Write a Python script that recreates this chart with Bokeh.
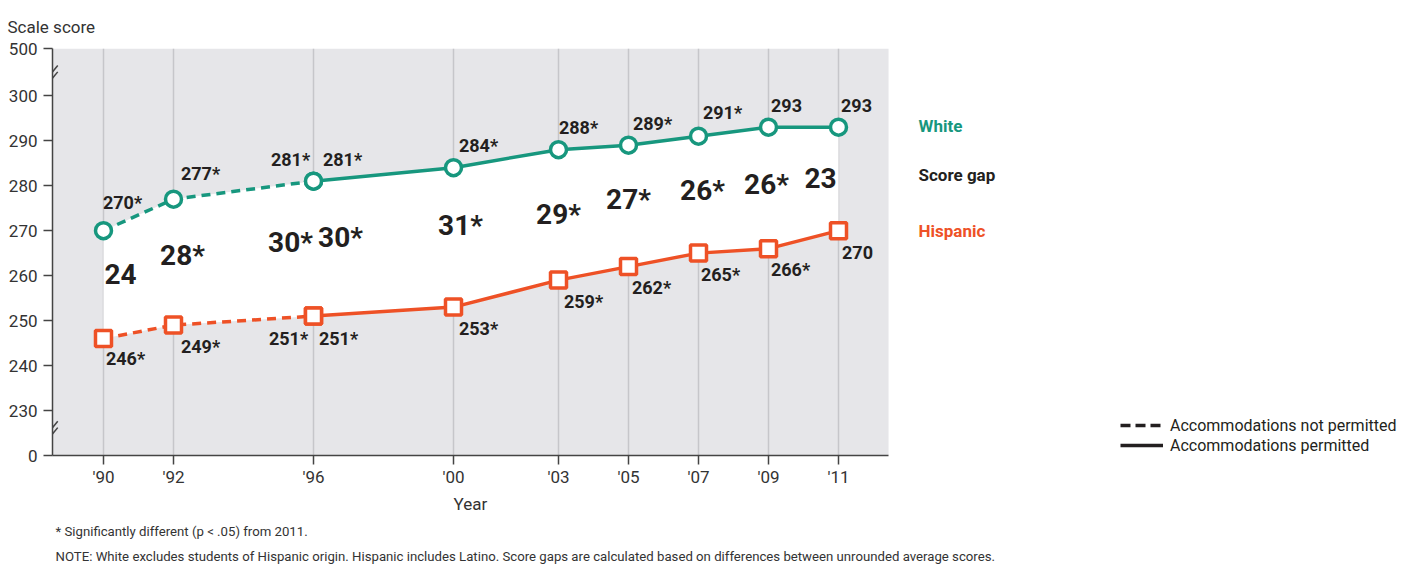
from bokeh.plotting import figure
from bokeh.models import (ColumnDataSource, Range1d, FixedTicker, Legend, LegendItem, Title)
from bokeh.core.properties import value
from bokeh.embed import file_html
from bokeh.resources import INLINE

# ---------------- data ----------------
years = [1990, 1992, 1996, 1996, 2000, 2003, 2005, 2007, 2009, 2011]
permitted = [False, False, False, True, True, True, True, True, True, True]
white = [270, 277, 281, 281, 284, 288, 289, 291, 293, 293]
hispanic = [246, 249, 251, 251, 253, 259, 262, 265, 266, 270]
gap = [24, 28, 30, 30, 31, 29, 27, 26, 26, 23]
white_sig = [1, 1, 1, 1, 1, 1, 1, 1, 0, 0]
hisp_sig = [1, 1, 1, 1, 1, 1, 1, 1, 1, 0]
gap_sig = [0, 1, 1, 1, 1, 1, 1, 1, 1, 0]

tick_years = [1990, 1992, 1996, 2000, 2003, 2005, 2007, 2009, 2011]
tick_labels = ["'90", "'92", "'96", "'00", "'03", "'05", "'07", "'09", "'11"]
y_ticks = [230, 240, 250, 260, 270, 280, 290, 300]
series_names = ["White", "Score gap", "Hispanic"]
legend_labels = ["Accommodations not permitted", "Accommodations permitted"]
# broken axis: display positions standing for 0 and 500
Y_ZERO_POS = 220
Y_TOP_POS = 310.5
X_LEFT = 1988.543
X_PLOT_RIGHT = 2012.43
X_CANVAS_RIGHT = 2027.514

# ---------------- label offsets (screen px) ----------------
white_dx = [19, 27, -23, 29, 25, 20, 24, 24, 18, 18]
white_dy = [-28, -26, -22, -22, -22, -22, -22, -24, -22, -22]
hisp_dx = [22, 27, -25, 25, 25, 25, 23, 22, 22, 19]
hisp_dy = [20, 21, 22, 22, 21, 21, 21, 21, 21, 22]
gap_dx = [17, 9, -23, 27, 7, 0, 0, 4, -2, -18]
gap_dy = [-11, -7, -6, -11, -12, 0, -6, -4, -3, -1]

TEAL = "#17977e"
ORANGE = "#ee5126"
TXT = "#231f20"
GREY_TXT = "#333333"
BG = "#e6e6e9"
GRID = "#c6c6ca"
FONT = "Roboto"


def star(v, s):
    return f"{v}*" if s else f"{v}"


p = figure(width=1416, height=567, output_backend="svg", toolbar_location=None,
           x_range=Range1d(X_LEFT, X_CANVAS_RIGHT), y_range=Range1d(Y_ZERO_POS, Y_TOP_POS),
           min_border_left=52, min_border_right=0, min_border_top=48, min_border_bottom=112)
p.background_fill_color = "white"
p.border_fill_color = "white"
p.outline_line_color = None
p.ygrid.grid_line_color = None
p.xgrid.grid_line_color = GRID
p.xgrid.grid_line_width = 1.5
p.xgrid.ticker = FixedTicker(ticks=tick_years)

# grey plotting area (drawn beneath the grid)
p.quad(left=[X_LEFT], right=[X_PLOT_RIGHT], bottom=[Y_ZERO_POS], top=[Y_TOP_POS],
       fill_color=BG, line_color=None, level="image")

p.xaxis.ticker = FixedTicker(ticks=tick_years)
p.xaxis.major_label_overrides = {y: l for y, l in zip(tick_years, tick_labels)}
p.xaxis.bounds = (X_LEFT, X_PLOT_RIGHT)
p.yaxis.ticker = FixedTicker(ticks=[Y_ZERO_POS] + y_ticks + [Y_TOP_POS])
overrides = {t: str(t) for t in y_ticks}
overrides[Y_ZERO_POS] = "0"
overrides[Y_TOP_POS] = "500"
p.yaxis.major_label_overrides = overrides
for ax in (p.xaxis[0], p.yaxis[0]):
    ax.axis_line_color = "#444444"
    ax.axis_line_width = 1.5
    ax.major_tick_line_color = "#444444"
    ax.major_tick_line_width = 1.5
    ax.major_tick_out = 9
    ax.major_tick_in = 0
    ax.minor_tick_line_color = None
    ax.major_label_text_font = FONT
    ax.major_label_text_font_size = "17px"
    ax.major_label_text_color = GREY_TXT
p.yaxis.major_label_standoff = 6
p.xaxis.major_label_standoff = 2

mid = [(w + h) / 2 for w, h in zip(white, hispanic)]
src = ColumnDataSource(dict(
    year=years, white=white, hisp=hispanic, mid=mid,
    wlab=[star(v, s) for v, s in zip(white, white_sig)],
    hlab=[star(v, s) for v, s in zip(hispanic, hisp_sig)],
    glab=[star(v, s) for v, s in zip(gap, gap_sig)],
    wdx=white_dx, wdy=white_dy, hdx=hisp_dx, hdy=hisp_dy, gdx=gap_dx, gdy=gap_dy,
))

# white band between the two series
p.varea(x="year", y1="hisp", y2="white", source=src, fill_color="white")

# split the lines into not permitted (dashed) and permitted (solid)
n_last = max(i for i, f in enumerate(permitted) if not f)
dash_x = years[:n_last + 1]
solid_x = years[n_last + 1:]
for series, col in ((white, TEAL), (hispanic, ORANGE)):
    p.line(dash_x, series[:n_last + 1], line_color=col, line_width=3.5, line_dash="9 6")
    p.line(solid_x, series[n_last + 1:], line_color=col, line_width=3.5)

p.scatter("year", "white", source=src, marker="circle", size=16, fill_color="white",
          line_color=TEAL, line_width=3.5)
p.scatter("year", "hisp", source=src, marker="square", size=16, fill_color="white",
          line_color=ORANGE, line_width=3.5)

common = dict(text_font=value(FONT), text_font_style="bold", text_color=TXT,
              text_align="center", text_baseline="middle")
p.text("year", "white", text="wlab", x_offset="wdx", y_offset="wdy", source=src,
       text_font_size="18px", **common)
p.text("year", "hisp", text="hlab", x_offset="hdx", y_offset="hdy", source=src,
       text_font_size="18px", **common)
p.text("year", "mid", text="glab", x_offset="gdx", y_offset="gdy", source=src,
       text_font_size="28px", **common)

# series names to the right of the last year
last = len(years) - 1
names_src = ColumnDataSource(dict(
    x=[years[last]] * 3,
    y=[white[last], mid[last], hispanic[last]],
    text=series_names,
    color=[TEAL, TXT, ORANGE],
    dy=[-1, -4, 0],
))
p.text("x", "y", text="text", source=names_src, text_color="color", x_offset=80,
       y_offset="dy", text_font=value(FONT), text_font_style="bold",
       text_font_size="17px", text_align="left", text_baseline="middle")

# axis break marks on the y axis
brk_x = X_LEFT
brk_dx = 0.15
brk_dy = 1.4
for yc in (305.3, 303.9, 226.2, 224.8):
    p.segment(x0=[brk_x - brk_dx], y0=[yc - brk_dy], x1=[brk_x + brk_dx], y1=[yc + brk_dy],
              line_color="#444444", line_width=1.5)

# line-style legend (sample renderers sit outside the visible range)
off_x = [X_LEFT - 20, X_LEFT - 19]
off_y = [Y_ZERO_POS, Y_ZERO_POS]
r_dash = p.line(off_x, off_y, line_color=TXT, line_width=3.5, line_dash="10 5")
r_solid = p.line(off_x, off_y, line_color=TXT, line_width=3.5)
leg = Legend(items=[LegendItem(label=legend_labels[0], renderers=[r_dash]),
                    LegendItem(label=legend_labels[1], renderers=[r_solid])],
             location=(1068, 0), padding=0, margin=0, spacing=0,
             glyph_width=43, glyph_height=20, label_height=20, label_standoff=7,
             label_text_font=FONT, label_text_font_size="16px", label_text_color=TXT,
             background_fill_alpha=0, border_line_color=None)
p.add_layout(leg)

# title-like texts
p.add_layout(Title(text="Scale score", align="left", offset=-45, standoff=23,
                   text_font=FONT, text_font_size="17px", text_font_style="normal",
                   text_color=GREY_TXT), "above")
p.add_layout(Title(text="Year", align="left", offset=401, standoff=4,
                   text_font=FONT, text_font_size="17px", text_font_style="normal",
                   text_color=GREY_TXT), "below")
p.add_layout(Title(text="* Significantly different (p < .05) from 2011.", align="left",
                   offset=3, standoff=13, text_font=FONT, text_font_size="13.2px",
                   text_font_style="normal", text_color=GREY_TXT), "below")
p.add_layout(Title(text="NOTE: White excludes students of Hispanic origin. Hispanic includes Latino. "
                        "Score gaps are calculated based on differences between unrounded average scores.",
                   align="left", offset=3, standoff=2, text_font=FONT, text_font_size="13.2px",
                   text_font_style="normal", text_color=GREY_TXT), "below")

open("out.html", "w").write(file_html(p, INLINE))
